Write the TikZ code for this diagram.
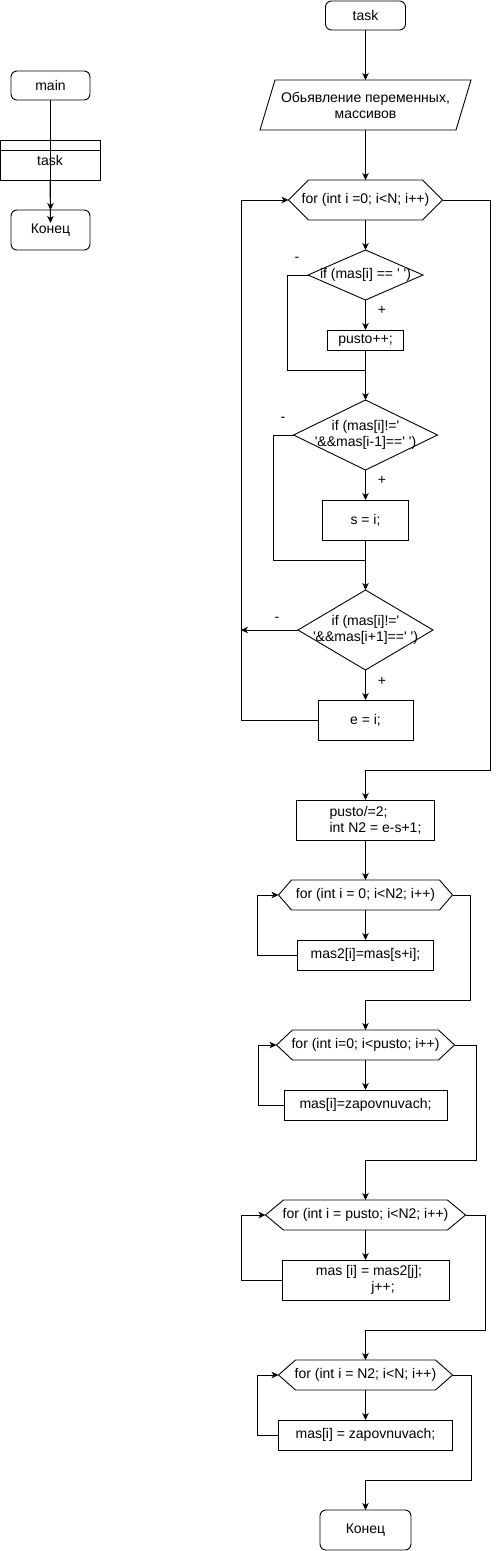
\documentclass[tikz,border=0pt]{standalone}
\usepackage{fontspec}
\setmainfont{Liberation Sans}[Ligatures=TeXOff]
\usetikzlibrary{arrows.meta}
\newcommand{\hexa}[2]{\draw[ln] (#1.west) -- ([xshift=#2]#1.north west) -- ([xshift=-#2]#1.north east) -- (#1.east) -- ([xshift=-#2]#1.south east) -- ([xshift=#2]#1.south west) -- cycle;}
\newcommand{\diam}[1]{\draw[ln] (#1.north) -- (#1.east) -- (#1.south) -- (#1.west) -- cycle;}
\begin{document}
\begin{tikzpicture}[x=1pt,y=-1pt,
  txt/.style={font=\fontsize{14}{16}\selectfont, inner sep=0pt, outer sep=0pt, align=center},
  proc/.style={txt, draw, line width=0.9pt, rectangle},
  term/.style={txt, draw, line width=0.9pt, rounded corners=6pt},
  shp/.style={txt, rectangle},
  ln/.style={line width=0.9pt},
  arr/.style={ln, -{Stealth[length=7pt,width=6.5pt,inset=2pt]}},
  sign/.style={font=\fontsize{14}{16}\selectfont, inner sep=0pt}]
\useasboundingbox (0,0) rectangle (500,1551);

% left column
\node[term, minimum width=79pt, minimum height=29pt] (main) at (50.5,85.5) {main};
\node[proc, minimum width=100pt, minimum height=40pt] (tsk) at (50,160) {task};
\draw[ln] ([yshift=-10pt]tsk.north west) -- ([yshift=-10pt]tsk.north east);
\node[term, minimum width=79pt, minimum height=40pt] (endL) at (50.5,230) {Конец};
\coordinate (endin) at (50.5,223);

% right column
\node[term, minimum width=80pt, minimum height=29pt] (tk) at (365.5,15.5) {task};
\node[shp, minimum width=211pt, minimum height=50pt] (decl) at (365.5,105) {Обьявление переменных,\\массивов};
\node[shp, minimum width=154pt, minimum height=40pt] (for1) at (365.5,200) {for (int i =0; i<N; i++)};
\node[shp, minimum width=115pt, minimum height=50pt] (if1) at (365.5,275) {if (mas[i] == ' ')};
\node[proc, minimum width=76pt, minimum height=20pt] (pusto) at (365.5,340) {pusto++;};
\node[shp, minimum width=144pt, minimum height=70pt] (if2) at (365.5,435) {if (mas[i]!='\\'\&\&mas[i-1]==' ')};
\node[proc, minimum width=86pt, minimum height=40pt] (s) at (365.5,520) {s = i;};
\node[shp, minimum width=135pt, minimum height=80pt] (if3) at (365.5,630) {if (mas[i]!='\\'\&\&mas[i+1]==' ')};
\node[proc, minimum width=95pt, minimum height=40pt] (e) at (365.5,720) {e = i;};
\node[proc, minimum width=138pt, minimum height=40pt] (div) at (365.5,820) {pusto/=2;\rule{14pt}{0pt}\\\rule{20pt}{0pt}int N2 = e-s+1;};
\node[shp, minimum width=174pt, minimum height=30pt] (for2) at (365.5,895) {for (int i = 0; i<N2; i++)};
\node[proc, minimum width=136pt, minimum height=30pt] (mas2) at (365.5,955) {mas2[i]=mas[s+i];};
\node[shp, minimum width=178pt, minimum height=30pt] (for3) at (365.5,1045) {for (int i=0; i<pusto; i++)};
\node[proc, minimum width=163pt, minimum height=30pt] (zap1) at (365.5,1105) {mas[i]=zapovnuvach;};
\node[shp, minimum width=200pt, minimum height=30pt] (for4) at (365.5,1215) {for (int i = pusto; i<N2; i++)};
\node[proc, minimum width=167pt, minimum height=40pt] (masj) at (365.5,1280) {\rule{7pt}{0pt}mas [i] = mas2[j];\\\rule{35pt}{0pt}j++;};
\node[shp, minimum width=174pt, minimum height=30pt] (for5) at (365.5,1375) {for (int i = N2; i<N; i++)};
\node[proc, minimum width=174pt, minimum height=30pt] (zap2) at (365.5,1435) {mas[i] = zapovnuvach;};
\node[term, minimum width=91pt, minimum height=40pt] (endR) at (365.5,1530) {Конец};

% outlines of special shapes
\draw[ln] (decl.south west) -- ([xshift=15pt]decl.north west) -- (decl.north east) -- ([xshift=-15pt]decl.south east) -- cycle;
\hexa{for1}{20pt}
\hexa{for2}{13pt}
\hexa{for3}{16pt}
\hexa{for4}{18pt}
\hexa{for5}{17pt}
\diam{if1}
\diam{if2}
\diam{if3}

% labels
\node[sign] (m1) at (297,259) {-};
\node[sign] (p1) at (382,310) {+};
\node[sign] (m2) at (283,419) {-};
\node[sign] (p2) at (382,480) {+};
\node[sign] (m3) at (277,619) {-};
\node[sign] (p3) at (382,681) {+};

% coordinates
\coordinate (j1) at (365.5,370);
\coordinate (j2) at (365.5,560);
\coordinate (out3) at (241,630);
\coordinate (c1) at (490,770);
\coordinate (c2) at (470,1000);
\coordinate (c3) at (476,1160);
\coordinate (c4) at (485,1330);
\coordinate (c5) at (471,1480);

% left connectors
\draw[arr] (main.south) -- (endL.north);
\draw[arr] (tsk.south) -- (endin);

% right connectors
\draw[arr] (tk.south) -- (decl.north);
\draw[arr] (decl.south) -- (for1.north);
\draw[arr] (for1.south) -- (if1.north);
\draw[arr] (if1.south) -- (pusto.north);
\draw[ln] (if1.west) -- ++(-21,0) |- (j1);
\draw[ln] (pusto.south) -- (j1);
\draw[arr] (j1) -- (if2.north);
\draw[arr] (if2.south) -- (s.north);
\draw[ln] (if2.west) -- ++(-20,0) |- (j2);
\draw[ln] (s.south) -- (j2);
\draw[arr] (j2) -- (if3.north);
\draw[arr] (if3.west) -- (out3);
\draw[arr] (if3.south) -- (e.north);
\draw[arr] (e.west) -- ++(-77,0) |- (for1.west);
\draw[arr] (for1.east) -| (c1) -| (div.north);
\draw[arr] (div.south) -- (for2.north);
\draw[arr] (for2.south) -- (mas2.north);
\draw[arr] (mas2.west) -- ++(-40,0) |- (for2.west);
\draw[arr] (for2.east) -| (c2) -| (for3.north);
\draw[arr] (for3.south) -- (zap1.north);
\draw[arr] (zap1.west) -- ++(-26,0) |- (for3.west);
\draw[arr] (for3.east) -| (c3) -| (for4.north);
\draw[arr] (for4.south) -- (masj.north);
\draw[arr] (masj.west) -- ++(-41,0) |- (for4.west);
\draw[arr] (for4.east) -| (c4) -| (for5.north);
\draw[arr] (for5.south) -- (zap2.north);
\draw[arr] (zap2.west) -- ++(-21,0) |- (for5.west);
\draw[arr] (for5.east) -| (c5) -| (endR.north);
\end{tikzpicture}
\end{document}
